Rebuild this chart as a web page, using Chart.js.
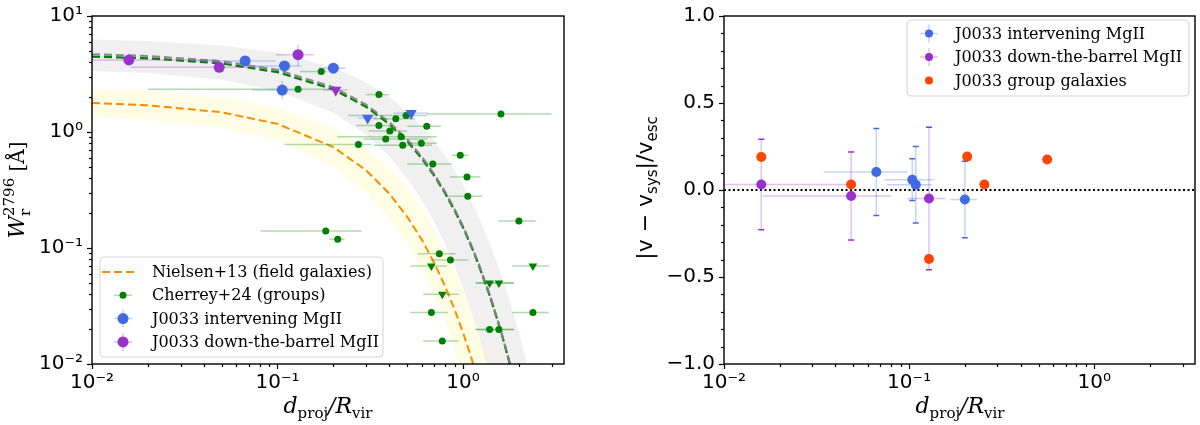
<!DOCTYPE html>
<html>
<head>
<meta charset="utf-8">
<script src="https://cdn.jsdelivr.net/npm/chart.js@4.4.1/dist/chart.umd.min.js"></script>
<style>
  html, body { margin: 0; padding: 0; background: #fff; }
  #wrap { position: relative; width: 1200px; height: 425px; }
  .panel { position: absolute; top: 0; width: 600px; height: 425px; }
  #left { left: 0; }
  #right { left: 600px; }
</style>
</head>
<body>
<div id="wrap">
  <div class="panel" id="left"><canvas id="ewChart" width="600" height="425"></canvas></div>
  <div class="panel" id="right"><canvas id="velChart" width="600" height="425"></canvas></div>
</div>
<script>
// ---- axis ticks ----
const logTickVals = [0.01, 0.1, 1, 10];
const logTickText = ['10⁻²', '10⁻¹', '10⁰', '10¹'];

// ---- left panel: model curves ----
const curveX      = [0.01, 0.02, 0.05, 0.1, 0.2, 0.3, 0.4, 0.5, 0.6, 0.7, 0.8, 0.9, 1.0, 1.1, 1.2, 1.4, 1.6, 1.8, 2.0, 2.2, 2.4];
const nielsenW    = [1.778, 1.698, 1.479, 1.175, 0.741, 0.468, 0.295, 0.186, 0.1175, 0.0741, 0.0468, 0.0295, 0.0186, 0.01175, 0.0074, null, null, null, null, null, null];
const nielsenHi   = [2.33, 2.24, 1.98, 1.62, 1.084, 0.724, 0.484, 0.324, 0.216, 0.1445, 0.0966, 0.0646, 0.0432, 0.0288, 0.0193, 0.0086, 0.0039, null, null, null, null];
const nielsenLo   = [1.342, 1.274, 1.091, 0.843, 0.504, 0.301, 0.1795, 0.107, 0.064, 0.0382, 0.0228, 0.0136, 0.0081, 0.0049, 0.0029, 0.0010, 0.0004, null, null, null, null];
const cherreyW    = [4.68, 4.52, 4.07, 3.43, 2.43, 1.72, 1.216, 0.861, 0.610, 0.431, 0.305, 0.216, 0.153, 0.108, 0.0767, 0.0385, 0.0193, 0.0097, 0.0048, null, null];
const cherreyFitW = [4.47, 4.32, 3.90, 3.28, 2.33, 1.65, 1.172, 0.832, 0.590, 0.419, 0.297, 0.211, 0.150, 0.106, 0.0753, 0.0379, 0.0191, 0.0096, 0.0048, null, null];
const cherreyHi   = [6.27, 6.09, 5.58, 4.82, 3.60, 2.69, 2.00, 1.496, 1.117, 0.834, 0.622, 0.465, 0.347, 0.259, 0.193, 0.1076, 0.060, 0.0334, 0.0186, 0.0104, 0.0058];
const cherreyLo   = [3.36, 3.22, 2.82, 2.27, 1.469, 0.951, 0.615, 0.398, 0.258, 0.1667, 0.1079, 0.0698, 0.0452, 0.0292, 0.0189, 0.0079, 0.0033, 0.0014, 0.00058, 0.00024, 0.0001];

// ---- left panel: Cherrey+24 group sample ----
const groupX   = [0.172, 0.129, 0.352, 1.60, 0.434, 0.493, 0.352, 0.637, 0.403, 0.463, 0.383, 0.473, 0.596, 0.273, 0.966, 0.687, 1.05, 1.06, 2.0, 0.182, 0.211, 0.745, 0.855, 0.675, 2.38, 1.39, 1.56, 0.773];
const groupW   = [3.32, 2.34, 2.10, 1.43, 1.30, 1.39, 1.14, 1.12, 1.02, 0.91, 0.87, 0.77, 0.80, 0.78, 0.63, 0.53, 0.41, 0.28, 0.171, 0.14, 0.119, 0.089, 0.079, 0.0278, 0.0278, 0.0198, 0.0198, 0.0158];
const groupXlo = [0.132, 0.020, 0.30, 0.64, 0.33, 0.24, 0.265, 0.50, 0.31, 0.21, 0.29, 0.33, 0.51, 0.109, 0.87, 0.50, 0.85, 0.81, 1.55, 0.081, 0.19, 0.57, 0.67, 0.52, 1.84, 1.17, 1.17, 0.61];
const groupXhi = [0.184, 0.207, 0.40, 3.0, 0.55, 0.64, 0.40, 0.76, 0.50, 0.72, 0.64, 0.68, 0.72, 0.32, 1.07, 0.87, 1.24, 1.27, 2.46, 0.284, 0.23, 0.91, 1.07, 0.83, 2.9, 1.88, 1.88, 0.95];
const groupLimX   = [0.675, 1.39, 1.56, 2.38, 0.773];
const groupLimW   = [0.070, 0.050, 0.050, 0.070, 0.040];
const groupLimXlo = [0.52, 1.17, 1.17, 1.84, 0.61];
const groupLimXhi = [0.82, 1.88, 1.88, 2.9, 0.95];

// ---- left panel: J0033 ----
const intX   = [0.0669, 0.109, 0.106, 0.200];
const intW   = [4.10, 3.71, 2.30, 3.55];
const intXlo = [0.0345, 0.0745, 0.073, 0.167];
const intXhi = [0.098, 0.135, 0.136, 0.233];
const intWlo = [3.8, 3.45, 1.92, 3.3];
const intWhi = [4.4, 3.98, 2.75, 3.8];
const intLimX   = [0.306, 0.525];
const intLimW   = [1.32, 1.45];
const intLimXlo = [0.273, 0.42];
const intLimXhi = [0.343, 0.65];
const dtbX   = [0.0158, 0.0485, 0.129];
const dtbW   = [4.18, 3.61, 4.64];
const dtbXlo = [0.005, 0.0162, 0.098];
const dtbXhi = [0.047, 0.080, 0.157];
const dtbWlo = [3.9, 3.35, 3.72];
const dtbWhi = [4.45, 3.88, 5.69];
const dtbLimX   = [0.206];
const dtbLimW   = [2.30];
const dtbLimXlo = [0.176];
const dtbLimXhi = [0.238];

// ---- right panel: |v - v_sys| / v_esc ----
const velIntX    = [0.0665, 0.104, 0.1086, 0.200];
const velIntY    = [0.103, 0.059, 0.030, -0.055];
const velIntXlo  = [0.0345, 0.0734, 0.076, 0.167];
const velIntXhi  = [0.098, 0.136, 0.133, 0.233];
const velIntYerr = [0.25, 0.12, 0.22, 0.22];
const velDtbX    = [0.0159, 0.0486, 0.128];
const velDtbY    = [0.032, -0.034, -0.049];
const velDtbXlo  = [0.005, 0.0162, 0.098];
const velDtbXhi  = [0.047, 0.0798, 0.157];
const velDtbYerr = [0.26, 0.253, 0.41];
const velGrpX    = [0.0159, 0.0486, 0.128, 0.206, 0.255, 0.557];
const velGrpY    = [0.190, 0.032, -0.397, 0.192, 0.032, 0.175];
const refLevel = 0;

// colours
const GREEN = '#008000', BLUE = '#4169e1', PURPLE = '#9932cc', RED = '#ff4500', ORANGE = '#ff8c00';
const GREEN_A = 'rgba(0,128,0,0.3)', BLUE_A = 'rgba(65,105,225,0.3)', PURPLE_A = 'rgba(153,50,204,0.3)';

function pts(xs, ys) {
  const out = [];
  xs.forEach((x, i) => { if (ys[i] !== null) out.push({x: x, y: ys[i]}); });
  return out;
}

// error bars drawn just before the marker dataset
const errorBarPlugin = {
  id: 'errorBars',
  beforeDatasetDraw(chart, args) {
    const ds = chart.data.datasets[args.index];
    const eb = ds.errorBars;
    if (!eb) return;
    const ctx = chart.ctx, a = chart.chartArea, sx = chart.scales.x, sy = chart.scales.y;
    ctx.save();
    ctx.beginPath();
    ctx.rect(a.left, a.top, a.right - a.left, a.bottom - a.top);
    ctx.clip();
    ctx.lineWidth = 1.5;
    ds.data.forEach((p, i) => {
      const px = sx.getPixelForValue(p.x), py = sy.getPixelForValue(p.y);
      ctx.strokeStyle = eb.color;
      if (eb.xlo) {
        ctx.beginPath();
        ctx.moveTo(sx.getPixelForValue(eb.xlo[i]), py);
        ctx.lineTo(sx.getPixelForValue(eb.xhi[i]), py);
        ctx.stroke();
      }
      if (eb.ylo) {
        const y1 = sy.getPixelForValue(eb.ylo[i]), y2 = sy.getPixelForValue(eb.yhi[i]);
        ctx.strokeStyle = eb.color;
        ctx.beginPath();
        ctx.moveTo(px, y1);
        ctx.lineTo(px, y2);
        ctx.stroke();
        if (eb.capColor) {
          ctx.strokeStyle = eb.capColor;
          ctx.beginPath();
          ctx.moveTo(px - 3, y1); ctx.lineTo(px + 3, y1);
          ctx.moveTo(px - 3, y2); ctx.lineTo(px + 3, y2);
          ctx.stroke();
        }
      }
    });
    ctx.restore();
  }
};

// frame + minor ticks
const framePlugin = {
  id: 'frame',
  afterDatasetsDraw(chart) {
    const ctx = chart.ctx, a = chart.chartArea;
    const sx = chart.scales.x, sy = chart.scales.y;
    ctx.save();
    ctx.strokeStyle = '#000';
    ctx.lineWidth = 1.2;
    // minor ticks
    for (let e = -3; e <= 1; e++) {
      for (let k = 2; k <= 9; k++) {
        const v = k * Math.pow(10, e);
        if (v > sx.min && v < sx.max) {
          const p = Math.round(sx.getPixelForValue(v)) + 0.5;
          ctx.beginPath(); ctx.moveTo(p, a.bottom); ctx.lineTo(p, a.bottom + 3); ctx.stroke();
        }
        if (sy.type === 'logarithmic' && v > sy.min && v < sy.max) {
          const p = Math.round(sy.getPixelForValue(v)) + 0.5;
          ctx.beginPath(); ctx.moveTo(a.left - 3, p); ctx.lineTo(a.left, p); ctx.stroke();
        }
      }
    }
    if (sy.type === 'linear') {
      for (let i = -10; i <= 10; i++) {
        if (i % 5 === 0) continue;
        const p = Math.round(sy.getPixelForValue(i / 10)) + 0.5;
        ctx.beginPath(); ctx.moveTo(a.left - 3, p); ctx.lineTo(a.left, p); ctx.stroke();
      }
    }
    ctx.lineWidth = 1.4;
    ctx.strokeRect(a.left, a.top, a.right - a.left, a.bottom - a.top);
    ctx.restore();
  }
};

// text with sub/superscripts
function drawRich(ctx, parts, x, y, rotate) {
  ctx.save();
  ctx.translate(x, y);
  if (rotate) ctx.rotate(-Math.PI / 2);
  ctx.fillStyle = '#000';
  ctx.textBaseline = 'alphabetic';
  ctx.textAlign = 'left';
  let w = 0;
  parts.forEach(p => { ctx.font = p.font; p.w = ctx.measureText(p.t).width; if (!p.stack) w += p.w; });
  let cx = -w / 2;
  parts.forEach(p => {
    ctx.font = p.font;
    ctx.fillText(p.t, cx, p.dy || 0);
    if (!p.stack) cx += p.w;
  });
  ctx.restore();
}

function drawLegend(ctx, box, rows) {
  ctx.save();
  const r = 4;
  ctx.beginPath();
  ctx.roundRect(box.x, box.y, box.w, box.h, r);
  ctx.fillStyle = 'rgba(255,255,255,0.85)';
  ctx.fill();
  ctx.strokeStyle = '#d4d4d4';
  ctx.lineWidth = 1;
  ctx.stroke();
  ctx.font = '16px "DejaVu Serif"';
  ctx.textBaseline = 'middle';
  rows.forEach((row, i) => {
    const y = box.y + box.first + i * box.step;
    const mx = box.mx;
    if (row.kind === 'line') {
      ctx.strokeStyle = row.color;
      ctx.lineWidth = 2;
      ctx.setLineDash([8, 4]);
      ctx.beginPath(); ctx.moveTo(mx - 21, y); ctx.lineTo(mx + 15, y); ctx.stroke();
      ctx.setLineDash([]);
    } else {
      if (row.err) {
        ctx.strokeStyle = row.err;
        ctx.lineWidth = 1.5;
        ctx.beginPath();
        ctx.moveTo(mx - 9, y); ctx.lineTo(mx + 9, y);
        if (row.cross) { ctx.moveTo(mx, y - 9); ctx.lineTo(mx, y + 9); }
        ctx.stroke();
      }
      ctx.fillStyle = row.color;
      ctx.beginPath(); ctx.arc(mx, y, row.radius, 0, Math.PI * 2); ctx.fill();
    }
    ctx.fillStyle = '#000';
    ctx.fillText(row.label, box.tx, y + 1);
  });
  ctx.restore();
}

const ewDecor = {
  id: 'ewDecor',
  afterDraw(chart) {
    const ctx = chart.ctx;
    drawRich(ctx, [
      {t: 'W', font: 'italic 22px "DejaVu Serif"'},
      {t: 'r', font: '15px "DejaVu Serif"', dy: 6, stack: true},
      {t: '2796', font: '15px "DejaVu Serif"', dy: -10},
      {t: ' [Å]', font: '20px "DejaVu Serif"'}
    ], 24, 190, true);
    drawRich(ctx, [
      {t: 'd', font: 'italic 22px "DejaVu Serif"'},
      {t: 'proj', font: '15px "DejaVu Serif"', dy: 5},
      {t: '/', font: 'italic 22px "DejaVu Serif"'},
      {t: 'R', font: 'italic 22px "DejaVu Serif"'},
      {t: 'vir', font: '15px "DejaVu Serif"', dy: 5}
    ], 328, 413, false);
    drawLegend(ctx, {x: 100, y: 257, w: 283, h: 100, first: 15, step: 23.3, mx: 123, tx: 152}, [
      {kind: 'line', color: ORANGE, label: 'Nielsen+13 (field galaxies)'},
      {kind: 'marker', color: GREEN, radius: 3.5, err: GREEN_A, label: 'Cherrey+24 (groups)'},
      {kind: 'marker', color: BLUE, radius: 5.5, err: BLUE_A, cross: true, label: 'J0033 intervening MgII'},
      {kind: 'marker', color: PURPLE, radius: 5.5, err: PURPLE_A, cross: true, label: 'J0033 down-the-barrel MgII'}
    ]);
  }
};

const velDecor = {
  id: 'velDecor',
  beforeDatasetsDraw(chart) {
    const ctx = chart.ctx, a = chart.chartArea;
    const py = Math.round(chart.scales.y.getPixelForValue(refLevel));
    ctx.save();
    ctx.strokeStyle = '#000';
    ctx.lineWidth = 2;
    ctx.setLineDash([2, 2.5]);
    ctx.beginPath(); ctx.moveTo(a.left, py); ctx.lineTo(a.right, py); ctx.stroke();
    ctx.restore();
  },
  afterDraw(chart) {
    const ctx = chart.ctx;
    drawRich(ctx, [
      {t: '|v − v', font: '22px "DejaVu Sans"'},
      {t: 'sys', font: '15px "DejaVu Sans"', dy: 5},
      {t: '|/v', font: '22px "DejaVu Sans"'},
      {t: 'esc', font: '15px "DejaVu Sans"', dy: 5}
    ], 52, 188, true);
    drawRich(ctx, [
      {t: 'd', font: 'italic 22px "DejaVu Serif"'},
      {t: 'proj', font: '15px "DejaVu Serif"', dy: 5},
      {t: '/', font: 'italic 22px "DejaVu Serif"'},
      {t: 'R', font: 'italic 22px "DejaVu Serif"'},
      {t: 'vir', font: '15px "DejaVu Serif"', dy: 5}
    ], 360, 413, false);
    drawLegend(ctx, {x: 307, y: 20, w: 282, h: 76, first: 13.5, step: 23.5, mx: 329, tx: 355}, [
      {kind: 'marker', color: BLUE, radius: 4, err: BLUE_A, cross: true, label: 'J0033 intervening MgII'},
      {kind: 'marker', color: PURPLE, radius: 4, err: PURPLE_A, cross: true, label: 'J0033 down-the-barrel MgII'},
      {kind: 'marker', color: RED, radius: 4, label: 'J0033 group galaxies'}
    ]);
  }
};

function logXAxis() {
  return {
    type: 'logarithmic',
    min: 0.01,
    max: 3.5,
    afterBuildTicks: s => { s.ticks = logTickVals.filter(v => v >= s.min && v <= s.max).map(v => ({value: v})); },
    afterFit: s => { s.height = 61; },
    ticks: {
      autoSkip: false, maxRotation: 0, padding: 2, color: '#000',
      font: {family: 'DejaVu Sans', size: 20},
      callback: v => logTickText[logTickVals.indexOf(v)] || ''
    },
    grid: {drawOnChartArea: false, drawTicks: true, tickLength: 5, tickColor: '#000', tickWidth: 1.2},
    border: {display: false}
  };
}

function markerSet(xs, ys, color, radius, style, order, errorBars) {
  return {
    data: pts(xs, ys), showLine: false, order: order,
    pointRadius: radius, pointStyle: style || 'circle', pointRotation: style === 'triangle' ? 180 : 0,
    pointBackgroundColor: color, pointBorderColor: color, pointBorderWidth: 0,
    errorBars: errorBars
  };
}

function curveSet(ys, color, width, dash, order, fill, bg) {
  return {
    data: pts(curveX, ys), showLine: true, order: order, pointRadius: 0,
    borderColor: color, borderWidth: width, borderDash: dash || [], tension: 0,
    fill: fill || false, backgroundColor: bg || 'transparent'
  };
}

document.addEventListener('DOMContentLoaded', function() {
  Chart.defaults.font.family = 'DejaVu Sans';

  new Chart(document.getElementById('ewChart').getContext('2d'), {
    type: 'line',
    data: {
      datasets: [
        curveSet(nielsenHi, 'transparent', 0, null, 20, '+1', 'rgba(255,250,0,0.1)'),
        curveSet(nielsenLo, 'transparent', 0, null, 20),
        curveSet(cherreyHi, 'transparent', 0, null, 19, '+1', 'rgba(128,128,128,0.12)'),
        curveSet(cherreyLo, 'transparent', 0, null, 19),
        curveSet(nielsenW, ORANGE, 2, [8, 4], 10),
        curveSet(cherreyFitW, GREEN, 2.2, [8, 4], 9),
        curveSet(cherreyW, 'rgba(128,128,128,0.9)', 2.2, [8, 4], 8),
        markerSet(groupX, groupW, GREEN, 3.5, 'circle', 5, {xlo: groupXlo, xhi: groupXhi, color: GREEN_A}),
        markerSet(groupLimX, groupLimW, GREEN, 5, 'triangle', 5, {xlo: groupLimXlo, xhi: groupLimXhi, color: GREEN_A}),
        markerSet(intX, intW, BLUE, 5.5, 'circle', 3, {xlo: intXlo, xhi: intXhi, ylo: intWlo, yhi: intWhi, color: BLUE_A}),
        markerSet(intLimX, intLimW, BLUE, 6.5, 'triangle', 3, {xlo: intLimXlo, xhi: intLimXhi, color: BLUE_A}),
        markerSet(dtbX, dtbW, PURPLE, 5.5, 'circle', 2, {xlo: dtbXlo, xhi: dtbXhi, ylo: dtbWlo, yhi: dtbWhi, color: PURPLE_A}),
        markerSet(dtbLimX, dtbLimW, PURPLE, 6.5, 'triangle', 2, {xlo: dtbLimXlo, xhi: dtbLimXhi, color: PURPLE_A})
      ]
    },
    options: {
      responsive: false, animation: false, events: [],
      layout: {padding: {left: 0, top: 13, right: 36, bottom: 0}},
      plugins: {legend: {display: false}, tooltip: {enabled: false}},
      scales: {
        x: logXAxis(),
        y: {
          type: 'logarithmic', min: 0.01, max: 10,
          afterBuildTicks: s => { s.ticks = logTickVals.map(v => ({value: v})); },
          afterFit: s => { s.width = 92; },
          ticks: {
            autoSkip: false, padding: 4, color: '#000',
            font: {family: 'DejaVu Sans', size: 20},
            callback: v => logTickText[logTickVals.indexOf(v)] || ''
          },
          grid: {drawOnChartArea: false, drawTicks: true, tickLength: 5, tickColor: '#000', tickWidth: 1.2},
          border: {display: false}
        }
      }
    },
    plugins: [errorBarPlugin, framePlugin, ewDecor]
  });

  new Chart(document.getElementById('velChart').getContext('2d'), {
    type: 'line',
    data: {
      datasets: [
        markerSet(velIntX, velIntY, BLUE, 5, 'circle', 3, {
          xlo: velIntXlo, xhi: velIntXhi,
          ylo: velIntY.map((v, i) => v - velIntYerr[i]), yhi: velIntY.map((v, i) => v + velIntYerr[i]),
          color: BLUE_A, capColor: BLUE
        }),
        markerSet(velDtbX, velDtbY, PURPLE, 5, 'circle', 2, {
          xlo: velDtbXlo, xhi: velDtbXhi,
          ylo: velDtbY.map((v, i) => v - velDtbYerr[i]), yhi: velDtbY.map((v, i) => v + velDtbYerr[i]),
          color: PURPLE_A, capColor: PURPLE
        }),
        markerSet(velGrpX, velGrpY, RED, 5, 'circle', 1)
      ]
    },
    options: {
      responsive: false, animation: false, events: [],
      layout: {padding: {left: 0, top: 13, right: 3, bottom: 0}},
      plugins: {legend: {display: false}, tooltip: {enabled: false}},
      scales: {
        x: logXAxis(),
        y: {
          type: 'linear', min: -1, max: 1,
          afterFit: s => { s.width = 124; },
          ticks: {
            stepSize: 0.5, padding: 4, color: '#000',
            font: {family: 'DejaVu Sans', size: 20},
            callback: v => v.toFixed(1).replace('-', '−')
          },
          grid: {drawOnChartArea: false, drawTicks: true, tickLength: 5, tickColor: '#000', tickWidth: 1.2},
          border: {display: false}
        }
      }
    },
    plugins: [errorBarPlugin, framePlugin, velDecor]
  });
});
</script>
</body>
</html>
